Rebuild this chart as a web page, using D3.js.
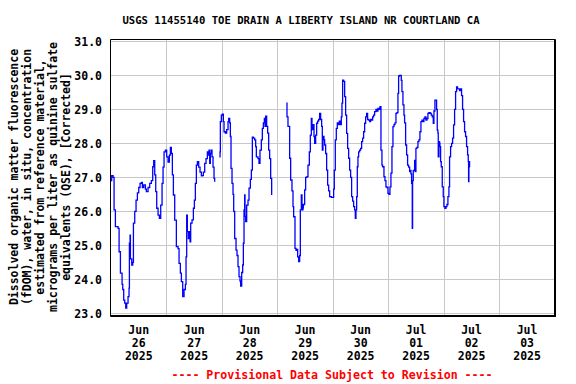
<!DOCTYPE html>
<html><head><meta charset="utf-8">
<script src="https://cdn.jsdelivr.net/npm/d3@7"></script>
<style>body{margin:0;background:#fff}svg{display:block}text{font-family:"DejaVu Sans Mono",monospace;font-weight:bold}</style>
</head><body>
<svg id="c" width="576" height="384"></svg>
<script>
const title = "USGS 11455140 TOE DRAIN A LIBERTY ISLAND NR COURTLAND CA";
const yLabelLines = ["Dissolved organic matter fluorescence","(fDOM), water, in situ, concentration","estimated from reference material,","micrograms per liter as quinine sulfate","equivalents (QSE), [Corrected]"];
const footer = "---- Provisional Data Subject to Revision ----";
const yTicks = [23,24,25,26,27,28,29,30,31];
const dayLabels = ["2025-06-26","2025-06-27","2025-06-28","2025-06-29","2025-06-30","2025-07-01","2025-07-02","2025-07-03"];
const startDate = "2025-06-26T00:00:00Z", endDate = "2025-07-04T00:00:00Z";
// hours after 2025-06-26 00:00 and fDOM values (null = gap)
const hours = [0,0.3,0.9,1.33,1.9,3.06,3.5,4.07,4.79,5.08,5.5,5.94,6.37,6.8,7.38,7.8,7.96,8.25,8.4,8.97,9.4,9.7,10.27,10.84,11.42,12.0,12.57,13.15,13.58,14.16,14.88,15.31,16.03,16.75,17.47,18.05,18.48,18.92,19.35,19.78,20.36,20.93,21.51,22.09,22.52,22.95,23.53,24.1,24.68,25.26,25.69,26.12,26.55,26.99,27.56,28.28,29.01,29.44,30.01,30.45,31.02,31.6,32.18,32.46,32.75,33.04,33.47,33.76,34.2,34.48,35.06,35.64,36.07,36.5,36.93,37.37,37.94,38.52,39.1,39.38,39.96,40.54,41.11,41.69,42.12,42.41,42.7,42.99,43.42,43.7,44.14,44.57,44.86,
45.8,
46.88,47.17,47.31,47.74,48.18,48.61,48.9,49.47,50.05,50.63,50.92,51.35,51.64,51.92,52.36,52.79,53.08,53.51,54.09,54.52,54.95,55.38,55.82,56.1,56.54,56.97,57.26,57.55,57.83,57.98,58.27,58.7,59.28,59.71,60.28,60.72,61.15,61.58,62.16,62.59,62.88,63.6,64.03,64.46,65.04,65.47,65.91,66.34,66.63,66.92,67.35,67.78,68.21,68.64,69.08,69.51,
72,
75.85,76.14,76.57,77.29,77.73,78.3,78.74,79.02,79.6,80.03,80.32,80.75,81.19,81.62,81.91,82.34,82.63,83.06,83.2,83.78,84.21,84.79,85.22,85.8,86.23,86.66,86.95,87.38,87.82,88.1,88.54,88.97,89.4,89.83,90.27,90.7,91.13,91.42,91.71,92.14,92.43,92.86,93.29,93.73,94.16,94.59,95.31,96.03,96.32,96.61,97.04,97.47,97.91,98.34,98.77,99.2,99.64,99.92,100.21,100.64,101.08,101.51,101.94,102.37,102.81,103.24,103.67,104.1,104.54,104.97,105.4,105.69,105.98,106.27,106.56,106.84,107.13,107.56,108.0,108.43,108.86,109.29,109.73,110.16,110.59,111.02,111.46,111.89,112.32,112.75,113.19,113.62,114.05,114.63,115.06,115.49,115.92,116.36,116.79,117.22,117.51,118.09,118.52,118.95,119.38,119.82,120.25,120.68,121.11,121.55,121.98,122.41,122.84,123.28,123.71,124.14,124.43,124.86,125.29,125.58,125.87,126.3,126.74,127.02,127.46,127.89,128.32,128.75,129.19,129.47,129.76,130.05,130.34,130.48,130.77,131.35,131.64,131.92,132.36,132.79,133.22,133.65,134.09,134.52,134.95,135.38,135.82,136.25,136.68,137.11,137.55,138.12,138.55,138.99,139.42,139.71,140.14,140.57,140.86,141.15,141.44,141.58,141.87,142.16,142.3,142.59,142.88,143.31,143.74,144.03,144.46,144.9,145.33,145.76,146.19,146.48,146.92,147.35,147.78,148.21,148.65,149.08,149.51,149.94,150.38,150.81,151.24,151.67,152.1,152.54,152.97,153.4,153.83,154.27,154.56,154.7,154.84,154.99,155.13];
const fdom = [26.9,27.05,27.0,26.04,25.55,25.5,24.81,24.18,23.85,23.7,23.39,23.3,23.15,23.3,23.49,23.74,25.06,25.3,24.6,24.42,24.5,25.65,26.0,26.33,26.54,26.7,26.82,26.85,26.7,26.78,26.65,26.58,26.7,26.82,26.9,27.31,27.49,27.07,26.58,26.09,25.89,25.79,26.18,26.82,27.3,27.75,27.8,27.6,27.45,27.65,27.88,27.7,27.07,26.48,25.74,24.96,24.9,24.47,24.18,23.93,23.49,23.7,23.85,24.66,25.89,25.4,25.2,25.4,25.1,25.65,25.75,26.09,26.33,26.82,27.36,27.46,27.3,27.15,27.04,27.05,27.15,27.41,27.55,27.75,27.65,27.8,27.41,27.7,27.8,27.6,27.3,26.97,26.87,
null,
27.6,27.75,28.64,28.83,28.86,28.64,28.34,28.3,28.4,28.64,28.73,28.6,28.2,27.26,26.82,26.5,26.0,25.2,24.86,24.7,24.37,24.08,23.95,23.8,24.2,24.42,25.06,26.04,26.48,25.85,25.7,26.18,26.33,26.68,26.94,27.21,28.18,28.15,28.1,27.9,27.6,27.55,27.41,27.8,28.1,28.44,28.6,28.73,28.5,28.8,28.5,28.3,27.8,27.55,26.97,26.48,
null,
29.18,28.78,28.5,27.56,26.92,26.6,26.14,25.84,24.91,24.85,24.88,24.66,24.52,24.7,26.04,26.48,26.04,26.1,26.2,26.63,27.0,27.02,27.36,27.75,28.24,28.73,28.4,28.55,28.2,28.0,28.24,28.59,28.65,28.7,28.88,28.7,28.5,27.8,28.2,28.1,27.95,27.7,27.21,26.77,26.6,26.43,26.41,26.41,26.65,27.21,28.1,28.44,28.6,28.55,28.65,28.55,28.78,29.18,29.86,29.82,29.37,28.83,28.29,27.85,27.56,27.21,27.0,26.43,26.3,26.14,26.04,25.79,26.04,26.43,27.31,27.6,27.75,27.8,27.85,28.05,28.15,28.34,28.59,28.78,28.88,28.7,28.68,28.64,28.7,28.68,28.78,28.83,28.93,29.0,28.95,29.03,29.0,29.08,27.8,27.36,27.31,27.02,26.9,26.72,26.7,26.53,26.5,26.72,27.12,27.9,28.49,28.55,28.6,28.88,28.9,29.47,29.98,30.0,30.0,29.85,29.52,29.13,28.83,28.6,27.95,27.66,27.36,27.3,27.17,27.2,27.1,26.82,25.5,26.9,27.2,27.5,27.17,27.85,27.88,28.05,28.1,28.34,28.64,28.68,28.64,28.73,28.78,28.68,28.73,28.88,28.9,28.88,28.83,28.78,28.59,28.95,29.27,29.27,29.0,28.39,28.3,27.6,28.05,28.0,27.9,27.46,27.31,26.72,26.43,26.14,26.09,26.14,26.2,26.43,26.72,27.6,27.9,28.0,28.15,28.54,29.0,29.52,29.66,29.6,29.6,29.55,29.6,29.4,29.0,28.64,28.34,28.2,27.9,27.66,27.46,26.87,27.3,27.46,27.3];

const svg = d3.select("#c");
const t0 = new Date(startDate);
const data = hours.map((h,i)=>({t:new Date(t0.getTime()+h*3600000), v:fdom[i]}));
const x = d3.scaleUtc().domain([new Date(startDate), new Date(endDate)]).range([111, 554.8]);
const y = d3.scaleLinear().domain([23,31]).range([313.3, 41.3]);
const L = 110.5, R = 554.5, T = 39.5, B = 315.5;

// gridlines
const mids = dayLabels.slice(1).map(d=>new Date(d+"T00:00:00Z"));
svg.append("g").selectAll("line.v").data(mids).join("line")
  .attr("x1",d=>Math.round(x(d))+0.5).attr("x2",d=>Math.round(x(d))+0.5)
  .attr("y1",T).attr("y2",B).attr("stroke","#c8c8c8").attr("stroke-width",1);
svg.append("g").selectAll("line.h").data(yTicks).join("line")
  .attr("x1",L).attr("x2",R).attr("y1",d=>Math.round(y(d))+0.5).attr("y2",d=>Math.round(y(d))+0.5)
  .attr("stroke","#c8c8c8").attr("stroke-width",1);

// data line
const line = d3.line().defined(d=>d.v!==null).x(d=>x(d.t)).y(d=>y(d.v)).curve(d3.curveStepAfter);
svg.append("path").datum(data).attr("d",line).attr("fill","none").attr("stroke","#0000ff").attr("stroke-width",1.3);

// frame
svg.append("line").attr("x1",L).attr("x2",L).attr("y1",T).attr("y2",B+1).attr("stroke","#000");
svg.append("line").attr("x1",L).attr("x2",R+1).attr("y1",T).attr("y2",T).attr("stroke","#000");
svg.append("line").attr("x1",R+0.5).attr("x2",R+0.5).attr("y1",T).attr("y2",B+1.5).attr("stroke","#000").attr("stroke-width",2);
svg.append("line").attr("x1",L).attr("x2",R+1.5).attr("y1",B+0.5).attr("y2",B+0.5).attr("stroke","#000").attr("stroke-width",2);

// y axis
const yAxis = d3.axisLeft(y).tickValues(yTicks).tickFormat(d3.format(".1f")).tickSize(0).tickPadding(9);
const gy = svg.append("g").attr("transform","translate(111,0)").call(yAxis);
gy.select(".domain").remove();
gy.selectAll("text").attr("font-size","11.5px").attr("fill","#000").attr("dy","0.36em")
  .style("font-family","'DejaVu Sans Mono',monospace").style("font-weight","bold");

// x axis labels at noon
const noons = dayLabels.map(d=>new Date(d+"T12:00:00Z"));
const fmts = [d3.utcFormat("%b"), d3.utcFormat("%d"), d3.utcFormat("%Y")];
const gx = svg.append("g");
noons.forEach(d=>{
  const tx = gx.append("text").attr("x",x(d)).attr("y",334).attr("text-anchor","middle").attr("font-size","11.5px").attr("fill","#000");
  fmts.forEach((f,i)=>tx.append("tspan").attr("x",x(d)).attr("y",334+i*13).text(f(d)));
});

// title
svg.append("text").attr("x",301).attr("y",24).attr("text-anchor","middle").attr("font-size","10.6px").attr("fill","#000").text(title);

// y label
const yl = svg.append("text").attr("transform","translate(0,177) rotate(-90)").attr("text-anchor","middle").attr("font-size","11.5px").attr("fill","#000");
yLabelLines.forEach((s,i)=>yl.append("tspan").attr("x",0).attr("y",18+i*13).text(s));

// footer
svg.append("text").attr("x",332).attr("y",379).attr("text-anchor","middle").attr("font-size","11.6px").attr("fill","#ff0000").text(footer);
</script>
</body></html>
